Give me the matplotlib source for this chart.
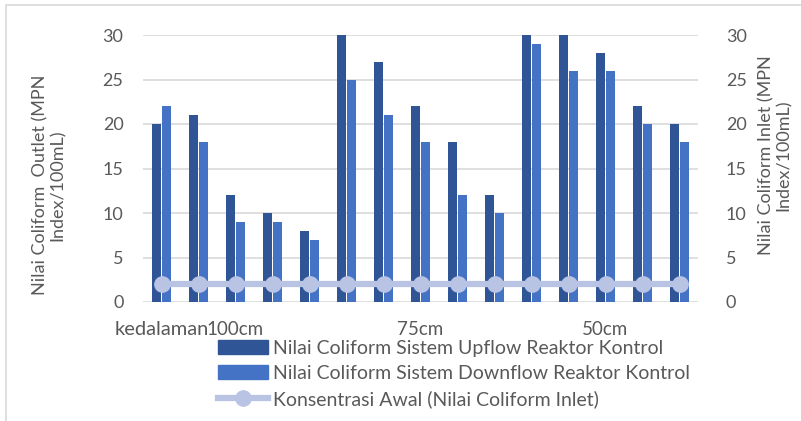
import numpy as np
import matplotlib
matplotlib.use("Agg")
import matplotlib.pyplot as plt
from matplotlib.patches import Patch, Rectangle
from matplotlib.lines import Line2D

plt.rcParams['font.family'] = ['Lato', 'DejaVu Sans']

# data
upflow = [20, 21, 12, 10, 8, 30, 27, 22, 18, 12, 30, 30, 28, 22, 20]
downflow = [22, 18, 9, 9, 7, 25, 21, 18, 12, 10, 29, 26, 26, 20, 18]
inlet = [2, 2, 2, 2, 2, 2, 2, 2, 2, 2, 2, 2, 2, 2, 2]
tick_pos = [0, 2, 7, 12]
tick_labels = ['kedalaman', '100cm', '75cm', '50cm']

names = ['Nilai Coliform Sistem Upflow Reaktor Kontrol',
         'Nilai Coliform Sistem Downflow Reaktor Kontrol',
         'Konsentrasi Awal (Nilai Coliform Inlet)']

dark = '#2F5597'
mid = '#4472C4'
light = '#B9C3E3'
grey_txt = '#595959'
grid_c = '#D9D9D9'

W, H = 801, 421
fig = plt.figure(figsize=(W / 100, H / 100), dpi=100)
ax = fig.add_axes([143 / W, 119 / H, 555 / W, 267 / H])

x = np.arange(len(upflow))
bw = 0.235
ax.bar(x - 0.13, upflow, bw, color=dark, zorder=2)
ax.bar(x + 0.13, downflow, bw, color=mid, zorder=2)

ax.set_xlim(-0.5, len(upflow) - 0.5)
ax.set_ylim(0, 30)
ax.set_yticks(range(0, 31, 5))
ax.yaxis.grid(True, color=grid_c, lw=1.2, zorder=0)
ax.set_axisbelow(True)
for s in ax.spines.values():
    s.set_visible(False)
ax.tick_params(axis='both', length=0, labelsize=13, colors=grey_txt)
ax.tick_params(axis='y', pad=14)
ax.set_xticks(tick_pos)
ax.set_xticklabels(tick_labels)
ax.tick_params(axis='x', pad=14, labelsize=13.5)
# excel squeezes "kedalaman" right up against "100cm"
ax.get_xticklabels()[0].set_fontsize(14.5)

ax2 = ax.twinx()
ax2.plot(x, inlet, color=light, lw=4.5, marker='o', markersize=11, zorder=3)
ax2.set_ylim(0, 30)
ax2.set_yticks(range(0, 31, 5))
for s in ax2.spines.values():
    s.set_visible(False)
ax2.tick_params(axis='y', length=0, labelsize=13, colors=grey_txt, pad=20)

fig.text(49 / W, 1 - 185 / H, 'Nilai Coliform  Outlet (MPN\nIndex/100mL)', rotation=90,
         ha='center', va='center', fontsize=13, color=grey_txt, linespacing=1.1)
fig.text(775 / W, 1 - 155 / H, 'Nilai Coliform Inlet (MPN\nIndex/100mL)', rotation=90,
         ha='center', va='center', fontsize=13, color=grey_txt, linespacing=1.1)

handles = [Patch(color=dark), Patch(color=mid),
           Line2D([], [], color=light, lw=4.5, marker='o', markersize=11)]
fig.legend(handles, names, loc='upper left', bbox_to_anchor=(208 / W, 1 - 330 / H),
           frameon=False, fontsize=14, labelcolor=grey_txt, handlelength=2.6,
           handleheight=0.7, handletextpad=0.25, labelspacing=0.42, borderpad=0)

# light frame around the chart
fig.patches.append(Rectangle((6 / W, -0.1), 1.2, 1 - 5 / H + 0.1, transform=fig.transFigure,
                             fill=False, edgecolor=grid_c, lw=1.2))

fig.savefig('out.png', dpi=100)
